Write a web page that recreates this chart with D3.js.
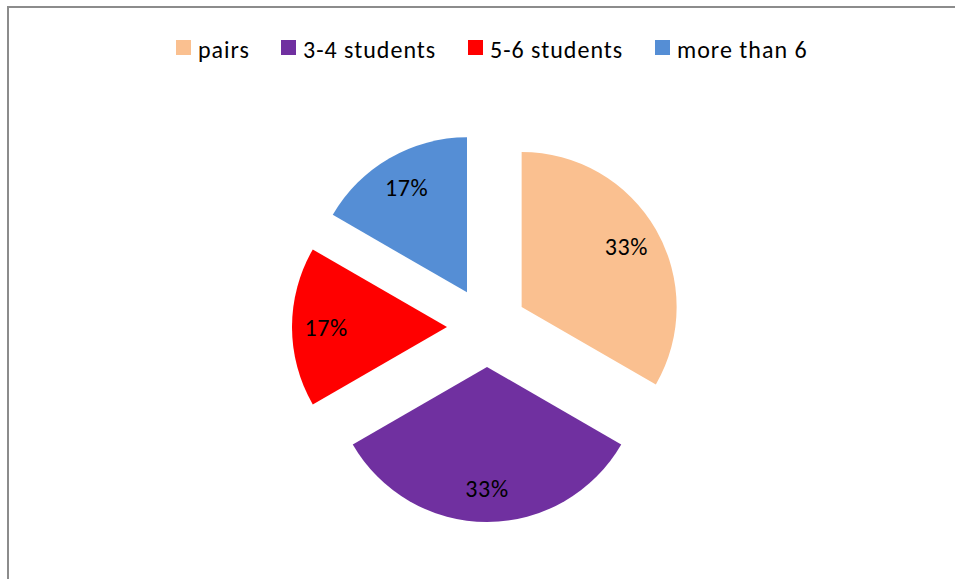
<!DOCTYPE html>
<html><head><meta charset="utf-8">
<script src="https://cdn.jsdelivr.net/npm/d3@7"></script>
<style>body{margin:0;background:#fff}svg{display:block}</style>
</head><body>
<script>
const categories = ["pairs", "3-4 students", "5-6 students", "more than 6"];
const values = [2, 2, 1, 1];
const labels = ["33%", "33%", "17%", "17%"];
const colors = ["#FAC090", "#7030A0", "#FF0000", "#558ED5"];

const W = 955, H = 579;
const svg = d3.select("body").append("svg").attr("width", W).attr("height", H);
svg.append("rect").attr("width", W).attr("height", H).attr("fill", "#fff");
// frame
svg.append("path").attr("d", `M8,${H} L8,7 L${W},7`).attr("fill", "none")
  .attr("stroke", "#8c8c8c").attr("stroke-width", 2);

const cx = 487, cy = 327, R = 155, explode = 40;
const pie = d3.pie().sort(null).value(d => d)(values);
const arc = d3.arc().innerRadius(0).outerRadius(R);
const font = "Carlito, Calibri, Lato, 'Open Sans', sans-serif";

const g = svg.append("g").attr("transform", `translate(${cx},${cy})`);
pie.forEach((p, i) => {
  const mid = (p.startAngle + p.endAngle) / 2;
  const dx = Math.sin(mid) * explode, dy = -Math.cos(mid) * explode;
  const sg = g.append("g").attr("transform", `translate(${dx},${dy})`);
  sg.append("path").attr("d", arc(p)).attr("fill", colors[i]);
  const lr = R * 0.78;
  sg.append("text").attr("x", Math.sin(mid) * lr).attr("y", -Math.cos(mid) * lr)
    .attr("dy", "0.36em")
    .attr("text-anchor", "middle")
    .attr("font-family", font).attr("font-size", 24).attr("letter-spacing", 0.6)
    .attr("fill", "#000")
    .text(labels[i]);
});

// legend
const legX = [176, 281, 468, 655];
const lg = svg.append("g");
categories.forEach((c, i) => {
  lg.append("rect").attr("x", legX[i]).attr("y", 40).attr("width", 15).attr("height", 15).attr("fill", colors[i]);
  lg.append("text").attr("x", legX[i] + 22).attr("y", 58)
    .attr("font-family", font).attr("font-size", 24).attr("letter-spacing", 1)
    .attr("fill", "#000").text(c);
});
</script>
</body></html>
